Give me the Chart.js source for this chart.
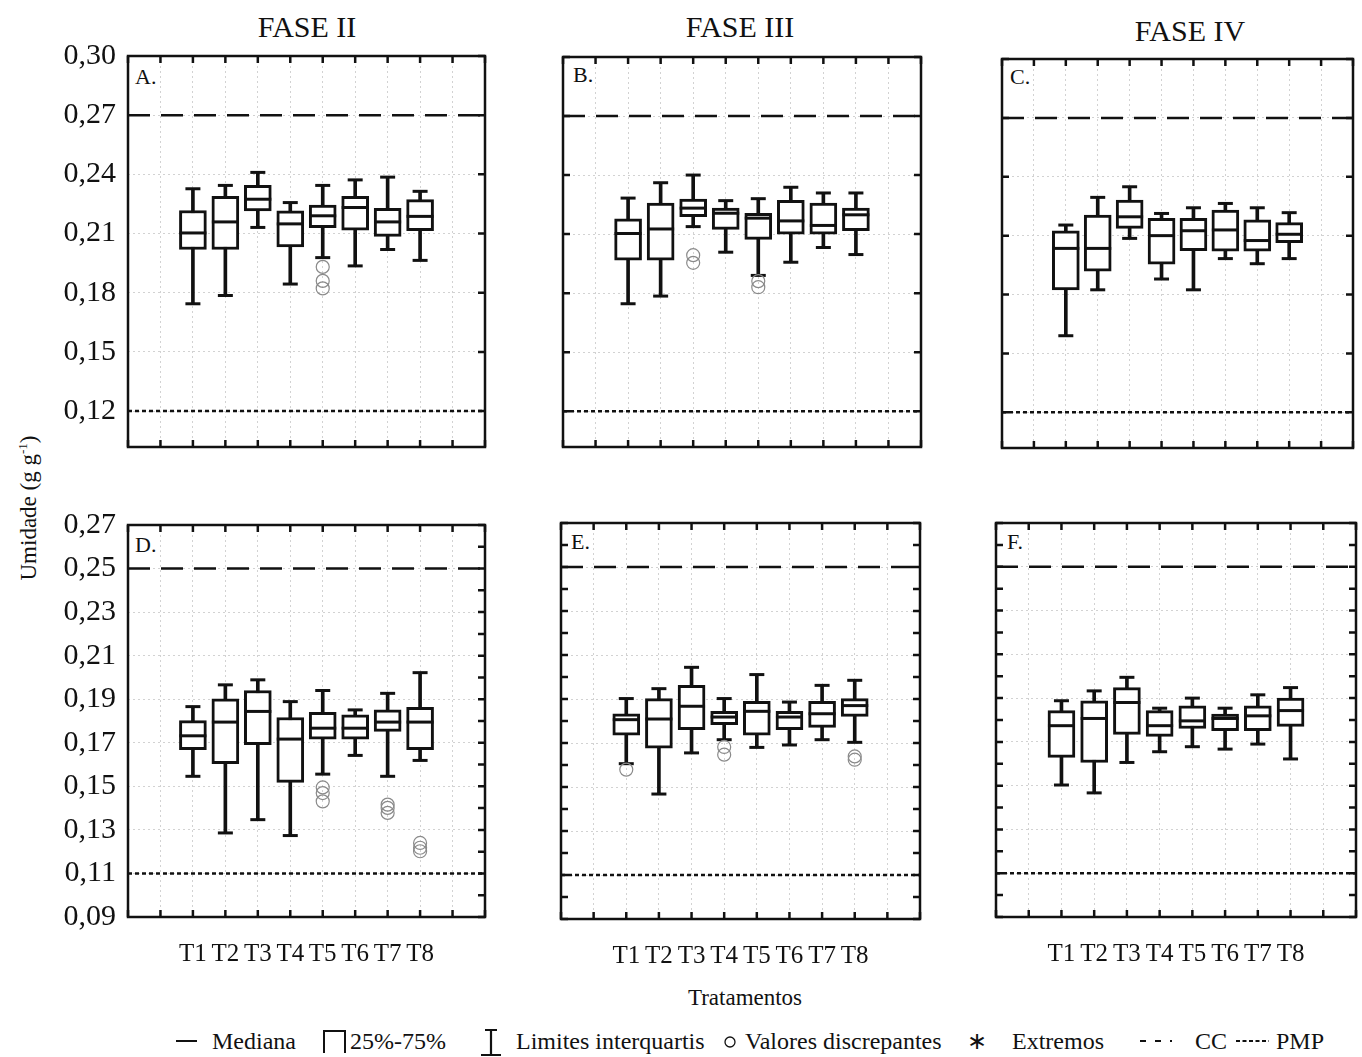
<!DOCTYPE html>
<html>
<head>
<meta charset="utf-8">
<script src="https://cdn.jsdelivr.net/npm/chart.js@4.4.0/dist/chart.umd.min.js"></script>
<style>
  body { margin: 0; background: #fff; width: 1362px; height: 1057px; position: relative; overflow: hidden;
         font-family: "Liberation Serif", "Times New Roman", serif; color: #111; }
  canvas { position: absolute; }
  .t { position: absolute; white-space: nowrap; line-height: 1; }
  .c { transform: translate(-50%, -50%); }
  .leg { position: absolute; white-space: nowrap; line-height: 1; font-size: 24px; top: 1041px; transform: translateY(-50%); }
</style>
</head>
<body>

<div class="t c" style="left:307px;top:27px;font-size:30px">FASE II</div>
<div class="t c" style="left:740px;top:27px;font-size:30px">FASE III</div>
<div class="t c" style="left:1190px;top:31px;font-size:30px">FASE IV</div>

<div class="t" style="left:135px;top:66px;font-size:22px">A.</div>
<div class="t" style="left:573px;top:64px;font-size:22px">B.</div>
<div class="t" style="left:1010px;top:66px;font-size:22px">C.</div>
<div class="t" style="left:135px;top:534px;font-size:22px">D.</div>
<div class="t" style="left:571px;top:531px;font-size:22px">E.</div>
<div class="t" style="left:1007px;top:531px;font-size:22px">F.</div>

<div class="t" style="left:28px;top:508px;font-size:23px;transform:translate(-50%,-50%) rotate(-90deg)">Umidade (g g<sup style="font-size:13px">-1</sup>)</div>
<div class="t c" style="left:745px;top:997px;font-size:23px">Tratamentos</div>

<!-- legend -->
<div style="position:absolute;left:176px;top:1040px;width:21px;border-top:2.5px solid #111"></div>
<div class="leg" style="left:212px">Mediana</div>
<div style="position:absolute;left:323px;top:1030px;width:19px;height:21px;border:2px solid #111;border-bottom:none"></div>
<div class="leg" style="left:350px">25%-75%</div>
<svg style="position:absolute;left:479px;top:1028px" width="24" height="30">
  <path d="M6 2 H18 M12 2 V27 M2 27 H22" stroke="#111" stroke-width="2.2" fill="none"/>
</svg>
<div class="leg" style="left:516px">Limites interquartis</div>
<svg style="position:absolute;left:723px;top:1035px" width="14" height="14">
  <circle cx="7" cy="7" r="5" stroke="#111" stroke-width="1.3" fill="none"/>
</svg>
<div class="leg" style="left:745px">Valores discrepantes</div>
<div class="leg" style="left:967px">∗</div>
<div class="leg" style="left:1012px">Extremos</div>
<svg style="position:absolute;left:1138px;top:1038px" width="34" height="6">
  <line x1="2" y1="3" x2="34" y2="3" stroke="#111" stroke-width="2" stroke-dasharray="6,9"/>
</svg>
<div class="leg" style="left:1195px">CC</div>
<svg style="position:absolute;left:1236px;top:1038px" width="34" height="6">
  <line x1="0" y1="3" x2="33" y2="3" stroke="#111" stroke-width="2" stroke-dasharray="4,2.5"/>
</svg>
<div class="leg" style="left:1276px">PMP</div>

<script>
const treatments = ['T1', 'T2', 'T3', 'T4', 'T5', 'T6', 'T7', 'T8'];

// one row per treatment: [min, q1, median, q3, max]
const boxesA = [
  [0.1744, 0.2019, 0.2103, 0.2217, 0.2327],
  [0.1786, 0.2019, 0.2159, 0.2289, 0.2344],
  [0.2131, 0.2215, 0.2274, 0.2344, 0.2410],
  [0.1844, 0.2032, 0.2149, 0.2215, 0.2257],
  [0.1978, 0.2130, 0.2190, 0.2244, 0.2344],
  [0.1936, 0.2117, 0.2232, 0.2289, 0.2372],
  [0.2019, 0.2086, 0.2159, 0.2228, 0.2386],
  [0.1964, 0.2114, 0.2187, 0.2272, 0.2314]
];
const outliersA = [[], [], [], [], [0.1931, 0.1860, 0.1822], [], [], []];

const boxesB = [
  [0.1746, 0.1967, 0.2103, 0.2177, 0.2283],
  [0.1785, 0.1967, 0.2126, 0.2258, 0.2361],
  [0.2138, 0.2189, 0.2232, 0.2278, 0.2400],
  [0.2008, 0.2124, 0.2206, 0.2232, 0.2270],
  [0.1890, 0.2073, 0.2181, 0.2206, 0.2280],
  [0.1957, 0.2100, 0.2167, 0.2271, 0.2338],
  [0.2032, 0.2100, 0.2144, 0.2258, 0.2309],
  [0.1996, 0.2117, 0.2198, 0.2232, 0.2309]
];
const outliersB = [[], [], [0.1993, 0.1954], [], [0.1861, 0.1830], [], [], []];

const boxesC = [
  [0.1590, 0.1824, 0.2035, 0.2124, 0.2154],
  [0.1824, 0.1919, 0.2035, 0.2205, 0.2295],
  [0.2086, 0.2137, 0.2196, 0.2281, 0.2349],
  [0.1879, 0.1954, 0.2100, 0.2188, 0.2213],
  [0.1824, 0.2023, 0.2125, 0.2188, 0.2242],
  [0.1983, 0.2021, 0.2129, 0.2230, 0.2264],
  [0.1957, 0.2021, 0.2075, 0.2180, 0.2242],
  [0.1983, 0.2064, 0.2107, 0.2166, 0.2217]
];
const outliersC = [[], [], [], [], [], [], [], []];

const boxesD = [
  [0.1546, 0.1668, 0.1732, 0.1802, 0.1866],
  [0.1286, 0.1604, 0.1795, 0.1902, 0.1966],
  [0.1347, 0.1691, 0.1844, 0.1940, 0.1989],
  [0.1274, 0.1518, 0.1717, 0.1816, 0.1889],
  [0.1556, 0.1717, 0.1767, 0.1840, 0.1940],
  [0.1642, 0.1717, 0.1767, 0.1828, 0.1851],
  [0.1546, 0.1752, 0.1795, 0.1851, 0.1927],
  [0.1619, 0.1668, 0.1795, 0.1863, 0.2022]
];
const outliersD = [[], [], [], [], [0.1495, 0.1469, 0.1431], [], [0.1416, 0.1401, 0.1378], [0.1240, 0.1218, 0.1202]];

const boxesE = [
  [0.1606, 0.1736, 0.1806, 0.1833, 0.1902],
  [0.1468, 0.1677, 0.1809, 0.1902, 0.1947],
  [0.1655, 0.1761, 0.1867, 0.1962, 0.2044],
  [0.1715, 0.1783, 0.1818, 0.1844, 0.1902],
  [0.1680, 0.1736, 0.1844, 0.1889, 0.2011],
  [0.1691, 0.1761, 0.1818, 0.1844, 0.1886],
  [0.1715, 0.1771, 0.1833, 0.1889, 0.1962],
  [0.1703, 0.1821, 0.1870, 0.1902, 0.1985]
];
const outliersE = [[0.1579], [], [], [0.1682, 0.1647], [], [], [], [0.1639, 0.1624]];

const boxesF = [
  [0.1503, 0.1629, 0.1774, 0.1843, 0.1888],
  [0.1467, 0.1606, 0.1807, 0.1888, 0.1933],
  [0.1606, 0.1734, 0.1880, 0.1948, 0.1995],
  [0.1655, 0.1725, 0.1774, 0.1843, 0.1854],
  [0.1678, 0.1761, 0.1796, 0.1865, 0.1900],
  [0.1667, 0.1751, 0.1807, 0.1827, 0.1854],
  [0.1690, 0.1751, 0.1819, 0.1865, 0.1915],
  [0.1622, 0.1771, 0.1843, 0.1900, 0.1948]
];
const outliersF = [[], [], [], [], [], [], [], []];

// reference lines: field capacity (CC) and wilting point (PMP)
const ccTop = 0.27, pmpTop = 0.12;
const ccBottom = 0.25, pmpBottom = 0.11;

// y ticks
const ticksTop = [0.12, 0.15, 0.18, 0.21, 0.24, 0.27, 0.30];
const labelsTop = [0.12, 0.15, 0.18, 0.21, 0.24, 0.27, 0.30];
const ticksBottom = [0.09, 0.10, 0.11, 0.12, 0.13, 0.14, 0.15, 0.16, 0.17, 0.18, 0.19,
                     0.20, 0.21, 0.22, 0.23, 0.24, 0.25, 0.26, 0.27];
const labelsBottom = [0.09, 0.11, 0.13, 0.15, 0.17, 0.19, 0.21, 0.23, 0.25, 0.27];
const xTicks = [0, 1, 2, 3, 4, 5, 6, 7, 8, 9, 10, 11];

Chart.defaults.font.family = '"Liberation Serif", "Times New Roman", serif';
Chart.defaults.color = '#111';

// area = [left, top, right, bottom] of the plot frame on the page
const panels = [
  { boxes: boxesA, out: outliersA, cc: ccTop, pmp: pmpTop, ticks: ticksTop, labels: labelsTop, yMin: 0.1018, yMax: 0.30, area: [128, 56, 485, 447], yLab: true, xLab: false },
  { boxes: boxesB, out: outliersB, cc: ccTop, pmp: pmpTop, ticks: ticksTop, labels: labelsTop, yMin: 0.1018, yMax: 0.30, area: [563, 57, 921, 447], yLab: false, xLab: false },
  { boxes: boxesC, out: outliersC, cc: ccTop, pmp: pmpTop, ticks: ticksTop, labels: labelsTop, yMin: 0.1018, yMax: 0.30, area: [1002, 59, 1353, 448], yLab: false, xLab: false },
  { boxes: boxesD, out: outliersD, cc: ccBottom, pmp: pmpBottom, ticks: ticksBottom, labels: labelsBottom, yMin: 0.09, yMax: 0.27, area: [128, 525, 485, 917], yLab: true, xLab: true },
  { boxes: boxesE, out: outliersE, cc: ccBottom, pmp: pmpBottom, ticks: ticksBottom, labels: labelsBottom, yMin: 0.09, yMax: 0.27, area: [561, 523, 920, 919], yLab: false, xLab: true },
  { boxes: boxesF, out: outliersF, cc: ccBottom, pmp: pmpBottom, ticks: ticksBottom, labels: labelsBottom, yMin: 0.09, yMax: 0.27, area: [996, 523, 1356, 917], yLab: false, xLab: true }
];

// frame and inward tick marks (no left marks where the axis carries labels)
const framePlugin = {
  id: 'frame',
  afterDraw(chart) {
    const { ctx, chartArea: a, scales: { x, y } } = chart;
    const leftMarks = !y.options.ticks.display;
    ctx.save();
    ctx.strokeStyle = '#111';
    ctx.lineWidth = 2.5;
    ctx.beginPath();
    x.ticks.forEach(t => {
      const px = x.getPixelForValue(t.value);
      ctx.moveTo(px, a.top); ctx.lineTo(px, a.top + 7);
      ctx.moveTo(px, a.bottom); ctx.lineTo(px, a.bottom - 7);
    });
    y.ticks.forEach(t => {
      const py = y.getPixelForValue(t.value);
      if (leftMarks) { ctx.moveTo(a.left, py); ctx.lineTo(a.left + 7, py); }
      ctx.moveTo(a.right, py); ctx.lineTo(a.right - 7, py);
    });
    ctx.stroke();
    ctx.strokeRect(a.left, a.top, a.right - a.left, a.bottom - a.top);
    ctx.restore();
  }
};

function isLabel(p, v) {
  return p.labels.some(m => Math.abs(m - v) < 1e-6);
}

const padL = 80, padT = 24, padR = 14, padB = 50;

function build(p, w, h, left, top) {
  const cv = document.createElement('canvas');
  cv.width = w;
  cv.height = h;
  cv.style.left = left + 'px';
  cv.style.top = top + 'px';
  document.body.appendChild(cv);

  const xs = treatments.map((t, i) => i + 2);
  const caps = [];
  const outs = [];
  p.boxes.forEach((b, i) => {
    caps.push({ x: xs[i], y: b[0] }, { x: xs[i], y: b[4] });
    p.out[i].forEach(v => outs.push({ x: xs[i], y: v }));
  });

  return new Chart(cv, {
    type: 'scatter',
    data: {
      datasets: [
        { type: 'line', data: [{ x: 0, y: p.cc }, { x: 11, y: p.cc }], borderColor: '#111', borderWidth: 2.5,
          borderDash: [22, 11], pointRadius: 0, order: 9 },
        { type: 'line', data: [{ x: 0, y: p.pmp }, { x: 11, y: p.pmp }], borderColor: '#111', borderWidth: 2.5,
          borderDash: [4, 3], pointRadius: 0, order: 9 },
        { type: 'bar', data: p.boxes.map((b, i) => ({ x: xs[i], y: [b[0], b[4]] })), backgroundColor: '#111',
          borderWidth: 0, barThickness: 3, grouped: false, order: 8 },
        { type: 'bar', data: p.boxes.map((b, i) => ({ x: xs[i], y: [b[1], b[3]] })), backgroundColor: '#fff',
          borderColor: '#111', borderWidth: 3, borderSkipped: false, barThickness: 27, grouped: false, order: 7 },
        { type: 'scatter', data: p.boxes.map((b, i) => ({ x: xs[i], y: b[2] })), pointStyle: 'line',
          pointRadius: 13.5, pointBorderWidth: 3, pointBorderColor: '#111', order: 6 },
        { type: 'scatter', data: caps, pointStyle: 'line', pointRadius: 7.5, pointBorderWidth: 3,
          pointBorderColor: '#111', order: 6 },
        { type: 'scatter', data: outs, pointStyle: 'circle', pointRadius: 6.5, pointBorderWidth: 1.2,
          pointBorderColor: '#8a8a8a', pointBackgroundColor: 'rgba(0,0,0,0)', order: 5 }
      ]
    },
    options: {
      responsive: false,
      maintainAspectRatio: false,
      animation: false,
      events: [],
      layout: { autoPadding: false, padding: { left: 0, top: padT, right: padR, bottom: 0 } },
      plugins: { legend: { display: false }, tooltip: { enabled: false } },
      scales: {
        x: {
          type: 'linear', min: 0, max: 11, offset: false,
          afterBuildTicks: s => { s.ticks = xTicks.map(v => ({ value: v })); },
          afterFit: s => { s.height = padB; },
          grid: { color: '#d2d2d2', lineWidth: 1, drawTicks: false, offset: false },
          border: { display: false, dash: [2, 3] },
          ticks: { display: p.xLab, padding: 22, maxRotation: 0, autoSkip: false,
                   font: { size: 25 }, color: '#111',
                   callback: v => treatments[v - 2] || '' }
        },
        y: {
          type: 'linear', min: p.yMin, max: p.yMax, beginAtZero: false,
          afterBuildTicks: s => { s.ticks = p.ticks.map(v => ({ value: v })); },
          afterFit: s => { s.width = padL; },
          grid: { color: c => isLabel(p, c.tick.value) ? '#d2d2d2' : 'rgba(0,0,0,0)', lineWidth: 1, drawTicks: false },
          border: { display: false, dash: [2, 3] },
          ticks: { display: p.yLab, padding: 12, autoSkip: false, font: { size: 30 }, color: '#111',
                   callback: v => isLabel(p, v) ? v.toFixed(2).replace('.', ',') : '' }
        }
      }
    },
    plugins: [framePlugin]
  });
}

// first pass measures where Chart.js puts the plot area, second pass places it on the frame
function makeChart(p) {
  const [L, T, R, B] = p.area;
  const w0 = R - L + padL + padR, h0 = B - T + padT + padB;
  const probe = build(p, w0, h0, 0, 0);
  const a = probe.chartArea;
  const w = w0 + (R - L) - (a.right - a.left);
  const h = h0 + (B - T) - (a.bottom - a.top);
  probe.canvas.remove();
  probe.destroy();
  build(p, Math.round(w), Math.round(h), Math.round(L - a.left), Math.round(T - a.top));
}

panels.forEach(makeChart);
</script>
</body>
</html>
